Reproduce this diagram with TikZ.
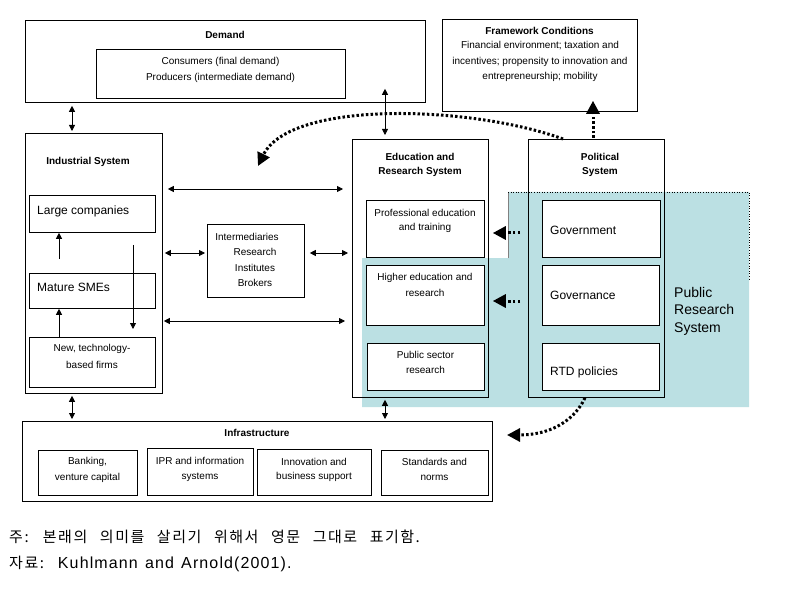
\documentclass[tikz,border=0pt]{standalone}
\usepackage{fontspec}
\setmainfont{Liberation Sans}
\newfontfamily\krs[LetterSpace=10,WordSpace=2.6]{Noto Sans CJK KR}
\newfontfamily\latcap[LetterSpace=7,WordSpace=1.3]{Liberation Sans}
\usetikzlibrary{arrows.meta,calc}
\definecolor{prsfill}{RGB}{187,224,227}
\begin{document}
\begin{tikzpicture}[x=1pt,y=-1pt,
 box/.style={draw=black,line width=0.8pt,rectangle,inner sep=0pt,anchor=north west},
 wbox/.style={box,fill=white},
 txt/.style={font=\fontsize{10}{12}\selectfont,align=center,inner sep=0pt},
 ttl/.style={font=\bfseries\fontsize{10}{12}\selectfont,align=center,inner sep=0pt},
 big/.style={font=\fontsize{12}{14}\selectfont,inner sep=0pt,anchor=west},
 dbl/.style={{Triangle[length=6pt,width=6pt]}-{Triangle[length=6pt,width=6pt]},line width=0.8pt},
 up/.style={-{Triangle[length=6pt,width=6pt]},line width=0.8pt},
 dots/.style={line width=3pt,dash pattern=on 2.5pt off 2.2pt,-{Triangle[length=13pt,width=13pt]}},
 captxt/.style={font=\fontsize{15}{18}\selectfont,inner sep=0pt,anchor=base west}
]
\useasboundingbox (0,0) rectangle (804,591);
% public research system shading
\fill[prsfill] (362,258) -- (508,258) -- (508,192) -- (749,192) -- (749,407) -- (362,407) -- cycle;
\draw[gray,line width=0.5pt] (508,258) -- (508,192);
\draw[dotted,line width=0.6pt] (508,192) -- (749,192) -- (749,280);

% Demand
\node[box,minimum width=400pt,minimum height=82pt] (demand) at (25,20) {};
\node[ttl] (demandt) at (225,35) {Demand};
\node[wbox,minimum width=249pt,minimum height=49pt] (cons) at (96,49) {};
\node[txt] (const) at (220.5,62) {Consumers (final demand)};
\node[txt] (prodt) at (220.5,78) {Producers (intermediate demand)};

% Framework
\node[box,minimum width=195pt,minimum height=92pt] (frame) at (442,19) {};
\node[ttl] (framet) at (539.5,31) {Framework Conditions};
\node[txt] (frame1) at (540,46) {Financial environment; taxation and};
\node[txt] (frame2) at (540,62) {incentives; propensity to innovation and};
\node[txt] (frame3) at (540,77) {entrepreneurship; mobility};

% Industrial
\node[box,minimum width=137pt,minimum height=260pt] (ind) at (25,133) {};
\node[ttl] (indt) at (88,162) {Industrial System};
\node[wbox,minimum width=126pt,minimum height=37pt] (large) at (29,195) {};
\node[big] (larget) at (37,211) {Large companies};
\node[wbox,minimum width=126pt,minimum height=35pt] (mature) at (29,273) {};
\node[big] (maturet) at (37,287) {Mature SMEs};
\node[wbox,minimum width=126pt,minimum height=50pt] (new) at (29,337) {};
\node[txt] (newt1) at (92,349) {New, technology-};
\node[txt] (newt2) at (92,365) {based firms};
\draw[up] ([xshift=30pt,yshift=14pt]mature.north west) -- ([xshift=30pt]large.south west);
\draw[up] ([xshift=30pt]new.north west) -- ([xshift=30pt]mature.south west);
\draw[up] ([xshift=104pt,yshift=-12pt]large.south west) -- ([xshift=104pt,yshift=8pt]new.north west);

% Intermediaries
\node[box,minimum width=97pt,minimum height=73pt] (inter) at (207,224) {};
\node[txt] (intert1) at (247,237) {Intermediaries};
\node[txt] (intert2) at (255,252) {Research};
\node[txt] (intert3) at (255,268) {Institutes};
\node[txt] (intert4) at (255,283) {Brokers};

% Education
\node[box,minimum width=136pt,minimum height=258pt] (edu) at (352,139) {};
\node[ttl] (edut1) at (420,157) {Education and};
\node[ttl] (edut2) at (420,172) {Research System};
\node[wbox,minimum width=118pt,minimum height=57pt] (prof) at (366,200) {};
\node[txt] (proft1) at (425,213) {Professional education};
\node[txt] (proft2) at (425,228) {and training};
\node[wbox,minimum width=118pt,minimum height=60pt] (higher) at (366,265) {};
\node[txt] (highert1) at (425,278) {Higher education and};
\node[txt] (highert2) at (425,293) {research};
\node[wbox,minimum width=117pt,minimum height=47pt] (pubsec) at (367,343) {};
\node[txt] (pubsect1) at (425.5,355) {Public sector};
\node[txt] (pubsect2) at (425.5,370) {research};

% Political
\node[box,minimum width=136pt,minimum height=258pt] (pol) at (528,139) {};
\node[ttl] (polt1) at (600,157) {Political};
\node[ttl] (polt2) at (600,172) {System};
\node[wbox,minimum width=118pt,minimum height=57pt] (gov) at (542,200) {};
\node[big] (govt) at (550,230) {Government};
\node[wbox,minimum width=117pt,minimum height=60pt] (govn) at (542,265) {};
\node[big] (govnt) at (550,295) {Governance};
\node[wbox,minimum width=117pt,minimum height=47pt] (rtd) at (542,343) {};
\node[big] (rtdt) at (550,372) {RTD policies};

\node[font=\fontsize{14}{17.5}\selectfont,align=left,anchor=west,inner sep=0pt] (prst) at (674,311) {Public\\Research\\System};

% Infrastructure
\node[box,minimum width=470pt,minimum height=80pt] (infra) at (22,421) {};
\node[ttl] (infrat) at (257,433) {Infrastructure};
\node[wbox,minimum width=99pt,minimum height=45pt] (bank) at (38,450) {};
\node[txt] (bankt1) at (87.5,462) {Banking,};
\node[txt] (bankt2) at (87.5,478) {venture capital};
\node[wbox,minimum width=106pt,minimum height=47pt] (ipr) at (147,448) {};
\node[txt] (iprt1) at (200,461) {IPR and information};
\node[txt] (iprt2) at (200,477) {systems};
\node[wbox,minimum width=114pt,minimum height=46pt] (innov) at (257,449) {};
\node[txt] (innovt1) at (314,462) {Innovation and};
\node[txt] (innovt2) at (314,477) {business support};
\node[wbox,minimum width=107pt,minimum height=45pt] (stand) at (381,450) {};
\node[txt] (standt1) at (434.5,462) {Standards and};
\node[txt] (standt2) at (434.5,478) {norms};

% horizontal double arrows
\draw[dbl] ($(ind.east|-0,189)+(5,0)$) -- ($(edu.west|-0,189)+(-9,0)$);
\draw[dbl] ($(ind.east|-0,253)+(2,0)$) -- ($(inter.west|-0,253)+(-2,0)$);
\draw[dbl] ($(inter.east|-0,253)+(5,0)$) -- ($(edu.west|-0,253)+(-4,0)$);
\draw[dbl] ($(ind.east|-0,321)+(1,0)$) -- ($(edu.west|-0,321)+(-7,0)$);
% vertical double arrows
\draw[dbl] ($(72,0|-demand.south)+(0,3)$) -- ($(72,0|-ind.north)+(0,-2)$);
\draw[dbl] ($(385,0|-demand.south)+(0,-14)$) -- ($(385,0|-edu.north)+(0,-4)$);
\draw[dbl] ($(72,0|-ind.south)+(0,2)$) -- ($(72,0|-infra.north)+(0,-2)$);
\draw[dbl] ($(385,0|-edu.south)+(0,2)$) -- ($(385,0|-infra.north)+(0,-2)$);

% dotted arrows
\coordinate (tipA) at (258,166);
\coordinate (tipB) at (507,435);
\draw[dots] ($(593,0|-pol.north)+(0,-1)$) -- ($(593,0|-frame.south)+(0,-11)$);
\draw[dots] ($(gov.west|-0,233)+(-22,0)$) -- ($(prof.east|-0,233)+(8,0)$);
\draw[dots] ($(govn.west|-0,301)+(-22,0)$) -- ($(higher.east|-0,301)+(8,0)$);
\draw[dots] (563,0|-pol.north) .. controls (470,105) and (290,100) .. (tipA);
\draw[dots] (585,0|-pol.south) .. controls (572,425) and (545,435) .. (tipB);

% caption
\node[captxt] (cap1) at (9,542) {\krs 주: 본래의 의미를 살리기 위해서 영문 그대로 표기함.};
\node[captxt] (cap2) at (9,568) {\krs 자료:\hspace{14pt}\fontsize{16}{18}\latcap Kuhlmann and Arnold(2001).};
\end{tikzpicture}
\end{document}
